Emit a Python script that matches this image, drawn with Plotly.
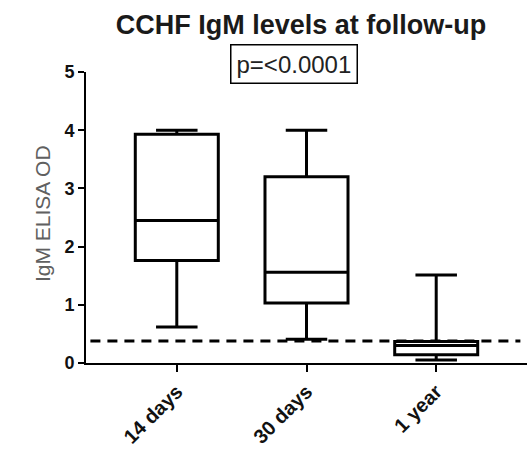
import plotly.graph_objects as go

# Follow-up time points
categories = ["14 days", "30 days", "1 year"]

# Box-plot summary statistics (IgM ELISA OD)
lower_whisker = [0.62, 0.41, 0.05]
q1_values = [1.76, 1.03, 0.14]
median_values = [2.45, 1.56, 0.30]
q3_values = [3.93, 3.20, 0.37]
upper_whisker = [4.00, 4.00, 1.51]

# Assay cut-off
cutoff = 0.38

y_ticks = [0, 1, 2, 3, 4, 5]

FONT = "Liberation Sans, Arial, Helvetica, sans-serif"

fig = go.Figure()

fig.add_trace(go.Box(
    x=categories,
    q1=q1_values,
    median=median_values,
    q3=q3_values,
    lowerfence=lower_whisker,
    upperfence=upper_whisker,
    width=0.64,
    whiskerwidth=0.5,
    fillcolor="white",
    line=dict(color="black", width=3),
    boxpoints=False,
    showlegend=False,
    hoverinfo="skip",
))

# Dashed cut-off line
fig.add_shape(
    type="line", xref="paper", yref="y",
    x0=0.01, x1=0.985, y0=cutoff, y1=cutoff,
    line=dict(color="black", width=3, dash="10px,7px"),
    layer="above",
)

fig.update_layout(
    width=528, height=449,
    margin=dict(l=86, r=1, t=72, b=86),
    paper_bgcolor="white",
    plot_bgcolor="white",
    font=dict(family=FONT, color="black"),
    title=dict(
        text="<b>CCHF IgM levels at follow-up</b>",
        x=301 / 528, xref="container", xanchor="center",
        y=1 - 25 / 449, yref="container", yanchor="middle",
        font=dict(size=27, color="#1a1a1a", family=FONT),
    ),
    xaxis=dict(
        type="category",
        range=[-0.7, 2.7],
        showline=True, linecolor="black", linewidth=2,
        ticks="outside", ticklen=7, tickwidth=2, tickcolor="black",
        tickangle=-45,
        tickfont=dict(size=20, family=FONT, color="#111111", weight="bold"),
        showgrid=False, zeroline=False,
    ),
    yaxis=dict(
        range=[0, 5],
        tickvals=y_ticks,
        ticktext=[str(t) for t in y_ticks],
        showline=True, linecolor="black", linewidth=2,
        ticks="outside", ticklen=6, tickwidth=2, tickcolor="black",
        tickfont=dict(size=18, family=FONT, color="#111111", weight="bold"),
        showgrid=False, zeroline=False,
    ),
    annotations=[
        dict(
            text="p=<0.0001",
            xref="paper", yref="paper",
            x=(294 - 86) / 441, y=(363 - 64) / 291,
            xanchor="center", yanchor="middle",
            showarrow=False,
            font=dict(size=24, family=FONT, color="#222222"),
            bordercolor="black", borderwidth=1.5, borderpad=5,
            bgcolor="white",
        ),
        dict(
            text="IgM ELISA OD",
            xref="paper", yref="paper",
            x=(42 - 86) / 441, y=(363 - 214) / 291,
            xanchor="center", yanchor="middle",
            textangle=-90,
            showarrow=False,
            font=dict(size=21, family=FONT, color="#606060"),
        ),
    ],
)

fig.write_html("out.html")
